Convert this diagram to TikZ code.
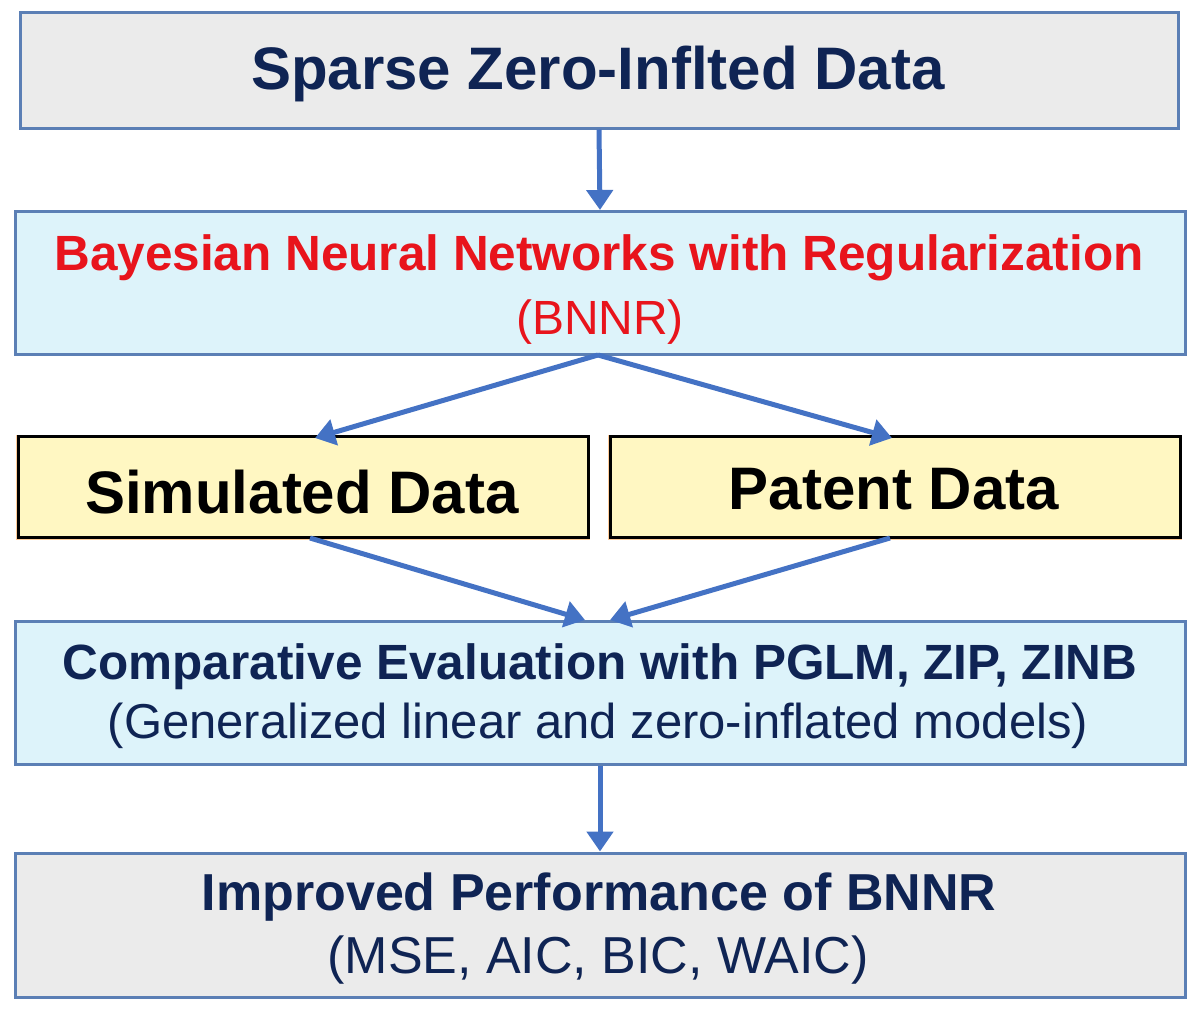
\documentclass[tikz,border=0pt]{standalone}
\usepackage{fontspec}
\setmainfont{Liberation Sans}
\usetikzlibrary{arrows.meta}
\definecolor{navy}{HTML}{0F2454}
\definecolor{bord}{HTML}{5B7FB5}
\definecolor{arr}{HTML}{4472C4}
\definecolor{gbox}{HTML}{EBEBEB}
\definecolor{bbox}{HTML}{DDF3FA}
\definecolor{ybox}{HTML}{FFF7C2}
\definecolor{rtext}{HTML}{E8141C}
\tikzset{
 box/.style={draw=bord,line width=3pt,minimum height=#1,inner sep=0pt,align=center},
 box/.default=116pt,
 ybx/.style={draw=black,line width=3pt,fill=ybox,minimum width=570pt,minimum height=101pt},
 conn/.style={draw=arr,line width=5pt,-{Triangle[length=20pt,width=26pt]}},
}
\begin{document}
\begin{tikzpicture}[x=1pt,y=-1pt]
\useasboundingbox (0,0) rectangle (1200,1021);
\node[box=116pt,fill=gbox,minimum width=1158pt] (a) at (599,70) {};
\node[text=navy,font=\fontsize{60}{66}\selectfont\bfseries] at (598,74) {Sparse Zero-Inflted Data};
\node[box=143pt,fill=bbox,minimum width=1170pt] (b) at (600,283) {};
\node[text=rtext,font=\fontsize{49.5}{54}\selectfont\bfseries] at (599,258) {Bayesian Neural Networks with Regularization};
\node[text=rtext,font=\fontsize{48}{54}\selectfont] at (600,322) {(BNNR)};
\draw[orange!40,line width=4pt] (18,437) rectangle (588,538);
\draw[orange!40,line width=4pt] (610,437) rectangle (1180,538);
\node[ybx] (c) at (303,487) {};
\node[font=\fontsize{60}{66}\selectfont\bfseries] at (302,492) {Simulated Data};
\node[ybx] (d) at (895,487) {};
\node[font=\fontsize{60}{66}\selectfont\bfseries] at (894,489) {Patent Data};
\node[box=143pt,fill=bbox,minimum width=1170pt] (e) at (600,693) {};
\node[text=navy,font=\fontsize{49.5}{54}\selectfont\bfseries] at (600,667) {Comparative Evaluation with PGLM, ZIP, ZINB};
\node[text=navy,font=\fontsize{49}{54}\selectfont] at (598,726) {(Generalized linear and zero-inflated models)};
\node[box=144pt,fill=gbox,minimum width=1170pt] (f) at (600,925) {};
\node[text=navy,font=\fontsize{52}{58}\selectfont\bfseries] at (599,897) {Improved Performance of BNNR};
\node[text=navy,font=\fontsize{52}{58}\selectfont] at (598,960) {(MSE, AIC, BIC, WAIC)};
\coordinate (bs) at (598,355);
\draw[conn] (a.south) -- (b.north);
\draw[conn] (bs) -- (315,438);
\draw[conn] (bs) -- (892,438);
\coordinate (ct) at (310,538);
\coordinate (dt) at (890,538);
\draw[conn] (ct) -- (585,620);
\draw[conn] (dt) -- (610,620);
\draw[conn] (e.south) -- (f.north);
\end{tikzpicture}
\end{document}
